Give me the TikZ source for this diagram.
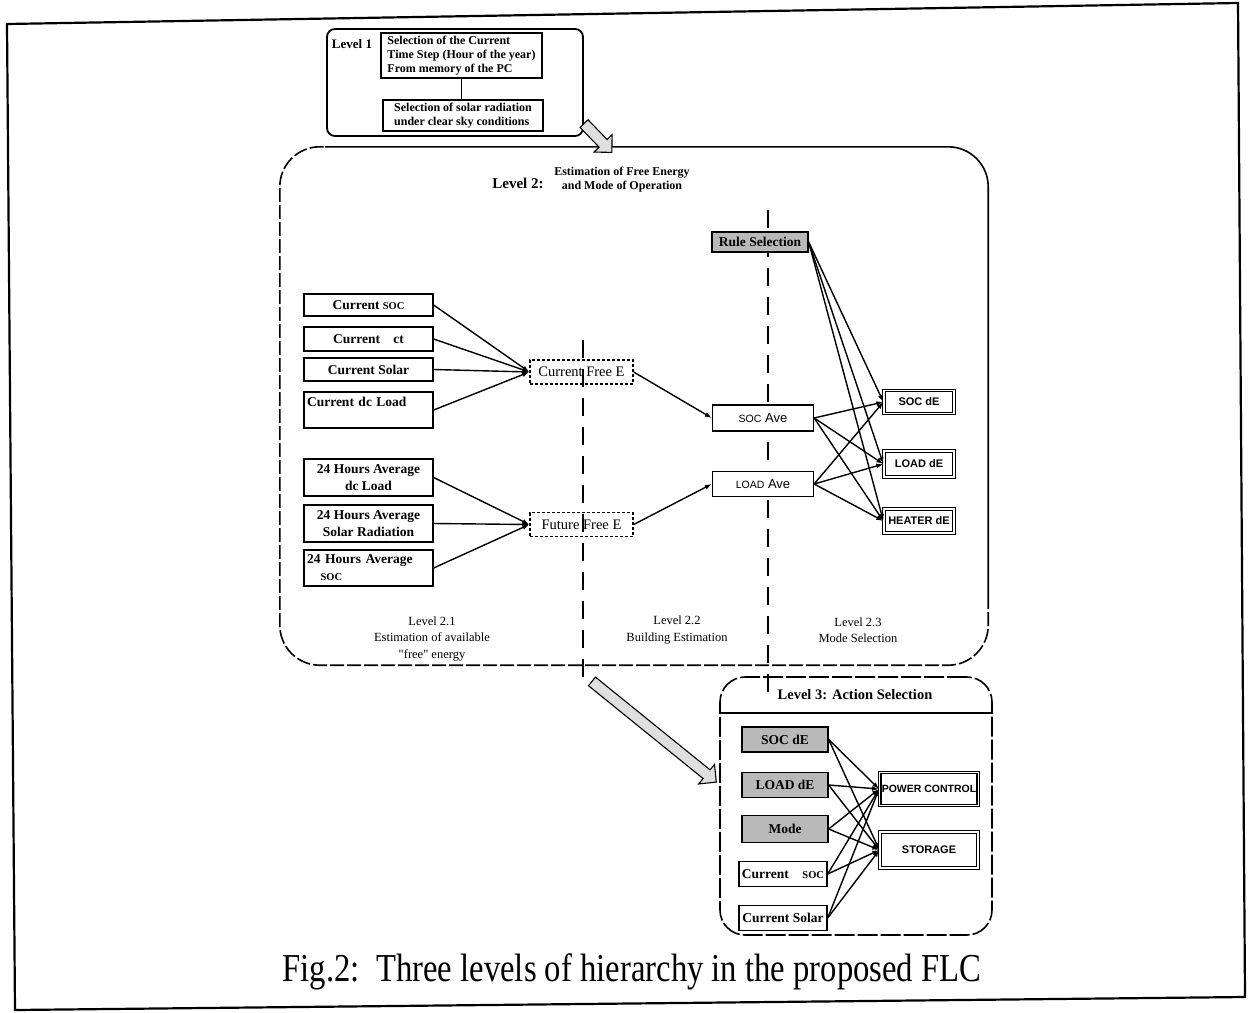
\documentclass[tikz,border=0pt]{standalone}
\usepackage{fontspec}
\setmainfont{Liberation Serif}
\setsansfont{Liberation Sans}
\usetikzlibrary{arrows.meta,shapes.arrows,calc}

\newcommand{\socText}{{\fontsize{10.5}{11}\selectfont SOC}}

\begin{document}
\begin{tikzpicture}[%%
  x=1pt,y=-1pt,%%
  frameStyle/.style={line width=2.2pt},%%
  levelStyle/.style={draw,line width=1.8pt,rounded corners=8pt},%%
  boxStyle/.style={draw,line width=1.3pt,fill=white,inner sep=2pt,%%
    font=\bfseries\fontsize{13.5}{17}\selectfont},%%
  freeStyle/.style={draw,line width=1.3pt,densely dashed,inner sep=2pt,%%
    font=\fontsize{14.5}{17}\selectfont},%%
  greyStyle/.style={boxStyle,fill=gray!55},%%
  outStyle/.style={boxStyle,double,double distance=1.2pt,%%
    font=\sffamily\bfseries\fontsize{11}{12}\selectfont},%%
  aveStyle/.style={boxStyle,font=\sffamily\fontsize{13}{14}\selectfont},%%
  labelStyle/.style={align=center,font=\fontsize{12.5}{16.5}\selectfont},%%
  arrowStyle/.style={-{Latex[length=7pt,width=5pt]},line width=1.4pt},%%
  lineStyle/.style={-,line width=1.4pt},%%
  dividerStyle/.style={line width=1.6pt,dash pattern=on 18pt off 11pt},%%
  borderStyle/.style={line width=1.6pt,rounded corners=40pt},%%
  blockArrow/.style={single arrow,draw,line width=1.1pt,fill=gray!25,%%
    inner sep=5pt,single arrow head extend=7pt}%%
]
%%
\useasboundingbox (0,0) rectangle (1249,1012);
%%
%% Column geometry of the level-2 stages.
\pgfmathsetmacro{\colA}{368.5}
\pgfmathsetmacro{\colAwidth}{129}
\pgfmathsetmacro{\freeX}{581.5}
\pgfmathsetmacro{\aveX}{763}
\pgfmathsetmacro{\deX}{919}
%%
%% Page frame.
\draw[frameStyle] (7,24) -- (1238,3) -- (1245,997) -- (15,1010) -- cycle;
%%
%% Level 1.
\node[levelStyle,minimum width=256,minimum height=107] (levelOne) at (455,82.5) {};
\node[font=\bfseries\fontsize{13}{15}\selectfont] (levelOneTitle) at (352,44) {Level 1};
\node[boxStyle,align=left,minimum width=161,minimum height=45,%%
  font=\bfseries\fontsize{12}{14}\selectfont] (timeStep) at (461.5,55.5)
  {Selection of the Current\\Time Step (Hour of the year)\\From memory of the PC};
\node[boxStyle,align=left,minimum width=160,minimum height=31,%%
  font=\bfseries\fontsize{12}{14}\selectfont] (solarSel) at (463,115.5)
  {Selection of solar radiation\\under clear sky conditions};
\draw[lineStyle] (timeStep.south) -- (timeStep.south |- solarSel.north);
%%
%% Level 2 container: solid top and right, dashed elsewhere.
\node[minimum width=708,minimum height=518] (levelTwo) at (634,406) {};
\draw[borderStyle] ($(levelTwo.north west)+(45,0)$) -| ($(levelTwo.south east)+(0,-70)$);
\draw[borderStyle,dash pattern=on 14pt off 3pt]
  ($(levelTwo.south east)+(0,-70)$) |- (levelTwo.south west) |- ($(levelTwo.north west)+(45,0)$);
\node[font=\bfseries\fontsize{15}{17}\selectfont] (levelTwoTitle) at (518,183) {Level 2:};
\node[align=center,font=\bfseries\fontsize{12}{14}\selectfont] (levelTwoSub) at (622,180)
  {Estimation of Free Energy\\and Mode of Operation};
%%
\node[blockArrow,minimum height=40,rotate=-46] (stepOneTwo) at (596,136) {};
%%
%% Stage dividers.
\coordinate (divATop) at (583,340);
\coordinate (divABot) at (583,686);
\coordinate (divBTop) at (768,210);
\coordinate (divBBot) at (768,692);
\draw[dividerStyle] (divATop) -- (divABot);
\draw[dividerStyle] (divBTop) -- (divBBot);
%%
%% Level 2.1 inputs.
\node[boxStyle,minimum width=\colAwidth,minimum height=22] (curSoc) at (\colA,305) {Current \socText};
\node[boxStyle,minimum width=\colAwidth,minimum height=24] (curDt) at (\colA,339) {Current\quad ct};
\node[boxStyle,minimum width=\colAwidth,minimum height=23] (curSolar) at (\colA,369.5) {Current Solar};
\node[boxStyle,minimum width=\colAwidth,minimum height=36,text width=123,align=left] (curLoad)
  at (\colA,410) {Current dc Load\\\mbox{}};
\node[boxStyle,minimum width=\colAwidth,minimum height=37,align=center] (avgLoad)
  at (\colA,477.5) {24 Hours Average\\dc Load};
\node[boxStyle,minimum width=\colAwidth,minimum height=37,align=center] (avgSolar)
  at (\colA,523.5) {24 Hours Average\\Solar Radiation};
\node[boxStyle,minimum width=\colAwidth,minimum height=36,text width=123,align=left] (avgSoc)
  at (\colA,568) {24 Hours Average\\\quad\socText};
%%
%% Free energy estimates.
\node[freeStyle,minimum width=103,minimum height=24] (curFree) at (\freeX,372) {Current Free E};
\node[freeStyle,minimum width=103,minimum height=24] (futFree) at (\freeX,524.5) {Future Free E};
%%
%% Level 2.2 averages.
\node[aveStyle,minimum width=101,minimum height=26] (socAve) at (\aveX,418) {{\fontsize{10.5}{10}\selectfont SOC} Ave};
\node[aveStyle,minimum width=101,minimum height=25] (loadAve) at (\aveX,484) {{\fontsize{10.5}{10}\selectfont LOAD} Ave};
%%
%% Level 2.3 mode selection.
\node[greyStyle,minimum width=96,minimum height=20,font=\bfseries\fontsize{13.5}{15}\selectfont]
  (ruleSel) at (760,242) {Rule Selection};
\node[outStyle,minimum width=70,minimum height=23] (socDe) at (\deX,402) {SOC dE};
\node[outStyle,minimum width=70,minimum height=26] (loadDe) at (\deX,464) {LOAD dE};
\node[outStyle,minimum width=70,minimum height=24] (heaterDe) at (\deX,521) {HEATER dE};
%%
\foreach \src in {curSoc,curDt,curSolar,curLoad}
  \draw[arrowStyle] (\src.east) -- (curFree.west);
\foreach \src in {avgLoad,avgSolar,avgSoc}
  \draw[arrowStyle] (\src.east) -- (futFree.west);
\draw[arrowStyle] (curFree.east) -- (socAve.west);
\draw[arrowStyle] (futFree.east) -- (loadAve.west);
\foreach \src in {ruleSel,socAve,loadAve}
  \foreach \dst in {socDe,loadDe,heaterDe}
    \draw[arrowStyle] (\src.east) -- (\dst.west);
%%
%% Stage labels.
\node[labelStyle] (stageA) at (432,639)
  {Level 2.1\\Estimation of available\\\textquotedbl free\textquotedbl{} energy};
\node[labelStyle] (stageB) at (677,630) {Level 2.2\\Building Estimation};
\node[labelStyle] (stageC) at (858,630) {Level 2.3\\Mode Selection};
%%
\node[blockArrow,minimum height=160,rotate=-39] (stepTwoThree) at (652,730) {};
%%
%% Level 3.
\node[minimum width=272,minimum height=258,draw,line width=1.6pt,%%
  rounded corners=25pt,dash pattern=on 20pt off 3pt] (levelThree) at (856,806) {};
\node[font=\bfseries\fontsize{14.5}{16}\selectfont] (levelThreeTitle) at (855,695) {Level 3: Action Selection};
\coordinate (titleRule) at (856,713);
\draw[line width=1.2pt] (levelThree.west |- titleRule) -- (levelThree.east |- titleRule);
%%
\node[greyStyle,minimum width=86,minimum height=25] (inSoc) at (785,739.5) {SOC dE};
\node[greyStyle,minimum width=86,minimum height=25] (inLoad) at (785,785) {LOAD dE};
\node[greyStyle,minimum width=86,minimum height=27] (inMode) at (785,829) {Mode};
\node[boxStyle,minimum width=88,minimum height=25] (inCurSoc) at (783,874) {Current\quad\socText};
\node[boxStyle,minimum width=88,minimum height=25] (inCurSolar) at (783,918) {Current Solar};
\node[outStyle,minimum width=98,minimum height=33,font=\sffamily\bfseries\fontsize{10.5}{12}\selectfont]
  (powerCtl) at (929,789) {POWER CONTROL};
\node[outStyle,minimum width=98,minimum height=36] (storage) at (929,850) {STORAGE};
%%
\foreach \src in {inSoc,inLoad,inMode,inCurSoc,inCurSolar}
  \foreach \dst in {powerCtl,storage}
    \draw[arrowStyle] (\src.east) -- (\dst.west);
%%
%% Caption.
\node[font=\fontsize{33}{36}\selectfont] (caption) at (632,972)
  {\scalebox{0.99}[1.2]{Fig.2:\ \ Three levels of hierarchy in the proposed FLC}};
\end{tikzpicture}
\end{document}
